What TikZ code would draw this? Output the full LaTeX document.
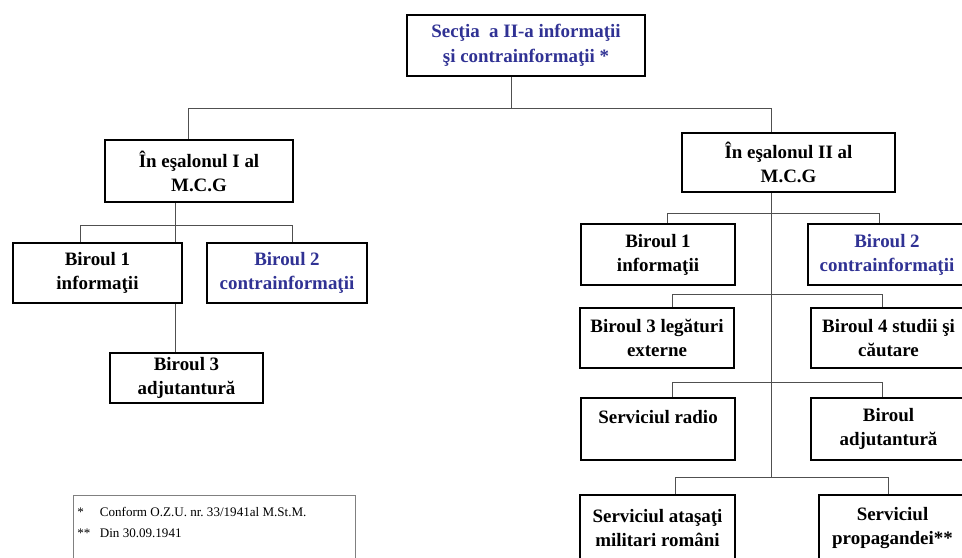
\documentclass[tikz,border=0pt]{standalone}
\usepackage{fontspec}
\setmainfont{Liberation Serif}
\usetikzlibrary{backgrounds}

\definecolor{secblue}{RGB}{48,50,148}
\definecolor{linkgray}{RGB}{80,80,80}

\tikzset{%
  every box/.style={
    rectangle,
    draw,
    line width=2.2pt,
    fill=white,
    align=center,
    inner sep=0pt,
    font=\fontsize{14.2}{18}\selectfont\bfseries
  },
  dim/.style 2 args={
    minimum width=#1*0.75pt,
    minimum height=#2*0.75pt
  },
  link/.style={
    draw=linkgray,
    line width=0.7pt
  },
  note box/.style={
    draw=gray,
    line width=0.6pt
  },
}

\begin{document}
\begin{tikzpicture}[x=0.75pt, y=-0.75pt]
\useasboundingbox (0,0) rectangle (962,557);


% Sectia
\node [every box, dim={238}{61}, text=secblue, font=\fontsize{14.2}{18.5}\selectfont\bfseries] (sectia) at (526,45.5)
  {Secţia\ \ a II-a informaţii\\şi contrainformaţii *};


% Esalonul I
\node [every box, dim={188}{62}] (esalon1) at (199,171) {În eşalonul I al\\M.C.G};
\node [every box, dim={169}{60}] (l-birou1) at (97.5,273) {Biroul 1\\informaţii};
\node [every box, dim={160}{60}, text=secblue] (l-birou2) at (287,273) {Biroul 2\\contrainformaţii};
\node [every box, dim={153}{50}] (l-birou3) at (186.5,378) {Biroul 3\\adjutantură};


% Esalonul II
\node [every box, dim={213}{59}] (esalon2) at (788.5,162.5) {În eşalonul II al\\M.C.G};

\node [every box, dim={154}{61}] (r-birou1) at (658,254.5) {Biroul 1\\informaţii};
\node [every box, dim={158}{61}, text=secblue] (r-birou2) at (887,254.5) {Biroul 2\\contrainformaţii};

\node [every box, dim={154}{60}] (r-birou3) at (657,338) {Biroul 3 legături\\externe};
\node [every box, dim={155}{60}] (r-birou4) at (888.5,338) {Biroul 4 studii şi\\căutare};

\node [every box, dim={154}{62}] (r-radio) at (658,429) {Serviciul radio\\\mbox{}};
\node [every box, dim={155}{62}] (r-adjut) at (888.5,429) {Biroul\\adjutantură};

\node [every box, dim={155}{67}] (r-atasati) at (657.5,528.5) {Serviciul ataşaţi\\militari români};
\node [every box, dim={147}{67}] (r-propag) at (892.5,528.5) {Serviciul\\propagandei**};


% Note
\draw [note box] (73,495) rectangle (355,575);
\node [anchor=north west, align=left, inner sep=0pt, font=\fontsize{9.8}{12}\selectfont] (note) at (77,507.5)
  {\makebox[17pt][l]{*}Conform O.Z.U. nr.\ 33/1941al M.St.M.\\[3.75pt]
   \makebox[17pt][l]{**}Din 30.09.1941};


% Verbindungen
\begin{scope}[on background layer]
  \coordinate (t-l) at (188,108);
  \coordinate (t-m) at (511,108);
  \coordinate (t-r) at (771,108);
  \coordinate (s-end) at (771,477);

  \draw [link] (sectia.south -| t-m) -- (t-m);
  \draw [link] (esalon1.north -| t-l) -- (t-l) -- (t-r) -- (s-end);

  \coordinate (l-a) at (80,225);
  \coordinate (l-b) at (292,225);
  \coordinate (l-m) at (175,225);
  \draw [link] (esalon1.south -| l-m) -- (l-birou3.north -| l-m);
  \draw [link] (l-birou1.north -| l-a) |- (l-b) -- (l-birou2.north -| l-b);

  \foreach \y/\xa/\xb/\l/\r in {213/667/879/r-birou1/r-birou2,
                                294/672/882/r-birou3/r-birou4,
                                382/672/882/r-radio/r-adjut,
                                477/675/888/r-atasati/r-propag}
  {
    \coordinate (a) at (\xa,\y);
    \coordinate (b) at (\xb,\y);
    \draw [link] (\l.north -| a) |- (b) -- (\r.north -| b);
  }
\end{scope}

\end{tikzpicture}
\end{document}
